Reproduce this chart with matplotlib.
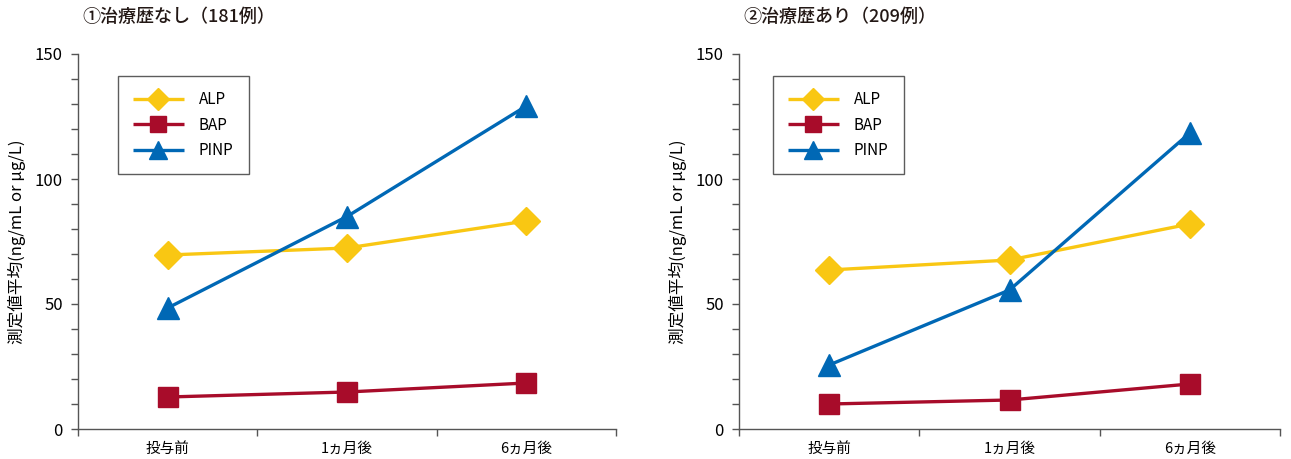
import matplotlib.pyplot as plt
from matplotlib.ticker import MultipleLocator, FixedLocator, NullFormatter

plt.rcParams['font.family'] = ['Noto Sans CJK JP', 'DejaVu Sans']

categories = ['投与前', '1ヵ月後', '6ヵ月後']
series_names = ['ALP', 'BAP', 'PINP']

titles = ['①治療歴なし（181例）', '②治療歴あり（209例）']

# 治療歴なし
alp_naive = [69.6, 72.4, 83.2]
bap_naive = [12.8, 14.8, 18.4]
pinp_naive = [48.4, 85.0, 129.2]

# 治療歴あり
alp_prior = [63.6, 67.6, 82.0]
bap_prior = [10.0, 11.6, 18.0]
pinp_prior = [25.6, 55.6, 118.4]

colors = ['#F9C713', '#A80C2A', '#0068B5']
markers = ['D', 's', '^']
msizes = [14, 15, 16]

fig = plt.figure(figsize=(12.91, 4.59), dpi=100)
W, H = 1291, 459
ax_left = fig.add_axes([78 / W, 30 / H, 538 / W, 375 / H])
ax_right = fig.add_axes([739 / W, 30 / H, 541 / W, 375 / H])

panels = [
    (ax_left, titles[0], [alp_naive, bap_naive, pinp_naive], 82, 118),
    (ax_right, titles[1], [alp_prior, bap_prior, pinp_prior], 743, 773),
]

x = list(range(len(categories)))

for ax, title, data, title_x, leg_x in panels:
    for vals, name, c, m, ms in zip(data, series_names, colors, markers, msizes):
        ax.plot(x, vals, color=c, marker=m, markersize=ms, linewidth=2.4,
                label=name, clip_on=False, solid_capstyle='butt')

    ax.set_xlim(-0.5, 2.5)
    ax.set_ylim(0, 150)
    ax.yaxis.set_major_locator(MultipleLocator(50))
    ax.yaxis.set_minor_locator(MultipleLocator(10))
    ax.tick_params(axis='y', which='both', direction='out', length=5,
                   width=1, color='#555555', labelsize=12, pad=6)

    # category boundaries carry the ticks, labels sit between them
    ax.xaxis.set_major_locator(FixedLocator([-0.5, 0.5, 1.5, 2.5]))
    ax.xaxis.set_major_formatter(NullFormatter())
    ax.xaxis.set_minor_locator(FixedLocator(x))
    ax.set_xticklabels(categories, minor=True)
    ax.tick_params(axis='x', which='major', direction='out', length=5,
                   width=1, color='#555555')
    ax.tick_params(axis='x', which='minor', length=0, labelsize=10.5, pad=9)

    for side in ['top', 'right']:
        ax.spines[side].set_visible(False)
    for side in ['left', 'bottom']:
        ax.spines[side].set_color('#555555')
        ax.spines[side].set_linewidth(1)

    ax.set_ylabel('測定値平均(ng/mL or μg/L)', fontsize=12, labelpad=6)

    fig.text(title_x / W, 1 - 17 / H, title, fontsize=13, fontweight='medium',
             ha='left', va='center', color='#231815')

    leg = ax.legend(loc='upper left',
                    bbox_to_anchor=((leg_x / W - ax.get_position().x0) / ax.get_position().width,
                                    (1 - 76 / H - ax.get_position().y0) / ax.get_position().height),
                    fontsize=11, frameon=True, fancybox=False, handlelength=3.3,
                    borderpad=1.0, labelspacing=0.55, handletextpad=1.0,
                    borderaxespad=0)
    leg.get_frame().set_edgecolor('#333333')
    leg.get_frame().set_linewidth(1)
    for h in leg.legend_handles:
        h.set_markersize(h.get_markersize() * 0.8)

fig.savefig('out.png', dpi=100)
